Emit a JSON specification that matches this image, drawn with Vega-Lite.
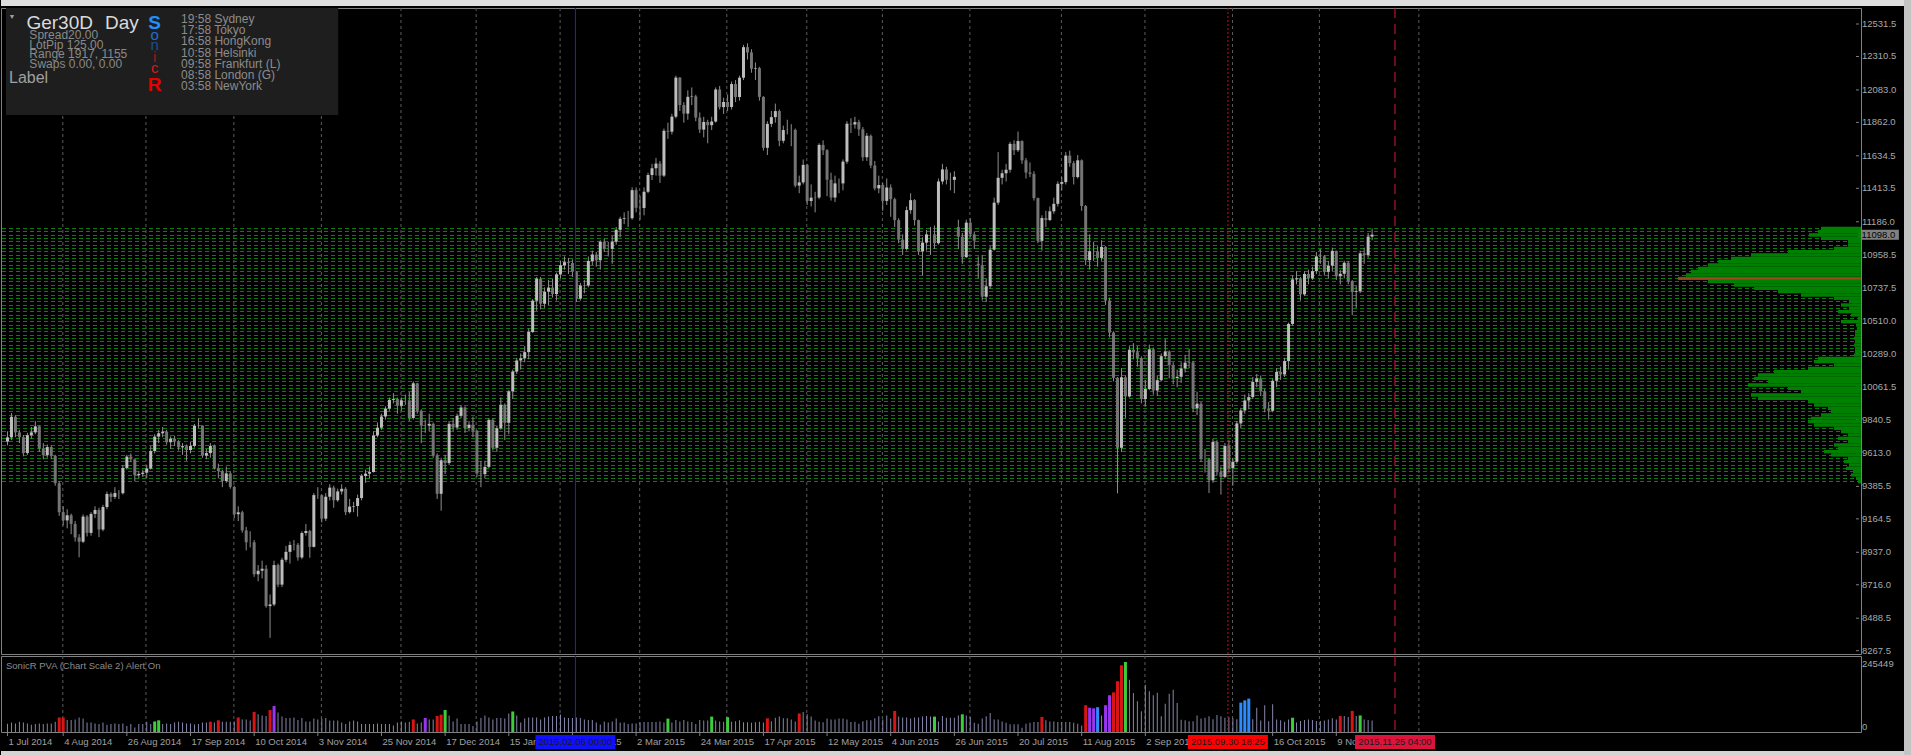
{
"$schema":"https://vega.github.io/schema/vega-lite/v6.json",
"background":"#000000",
"padding":0,
"config":{"view":{"stroke":"#808080","fill":"#000000"},"font":"Liberation Sans"},
"datasets":{
"bars":[
{"i":0,"o":9690,"h":9760,"l":9665,"c":9719,"v":29000,"k":"n"},
{"i":1,"o":9719,"h":9885,"l":9700,"c":9859,"v":33000,"k":"n"},
{"i":2,"o":9859,"h":9870,"l":9720,"c":9753,"v":30000,"k":"n"},
{"i":3,"o":9753,"h":9770,"l":9680,"c":9720,"v":36000,"k":"n"},
{"i":4,"o":9720,"h":9735,"l":9590,"c":9612,"v":33000,"k":"n"},
{"i":5,"o":9612,"h":9750,"l":9600,"c":9734,"v":30000,"k":"n"},
{"i":6,"o":9734,"h":9790,"l":9710,"c":9753,"v":25000,"k":"n"},
{"i":7,"o":9753,"h":9830,"l":9740,"c":9794,"v":28000,"k":"n"},
{"i":8,"o":9794,"h":9800,"l":9620,"c":9644,"v":30000,"k":"n"},
{"i":9,"o":9644,"h":9680,"l":9570,"c":9598,"v":28000,"k":"n"},
{"i":10,"o":9598,"h":9670,"l":9580,"c":9653,"v":30000,"k":"n"},
{"i":11,"o":9653,"h":9665,"l":9570,"c":9593,"v":30000,"k":"n"},
{"i":12,"o":9593,"h":9600,"l":9390,"c":9407,"v":36000,"k":"n"},
{"i":13,"o":9407,"h":9420,"l":9185,"c":9210,"v":51000,"k":"r"},
{"i":14,"o":9210,"h":9250,"l":9120,"c":9154,"v":51000,"k":"r"},
{"i":15,"o":9154,"h":9230,"l":9100,"c":9189,"v":42000,"k":"n"},
{"i":16,"o":9189,"h":9200,"l":9060,"c":9130,"v":42000,"k":"n"},
{"i":17,"o":9130,"h":9150,"l":9010,"c":9038,"v":44000,"k":"n"},
{"i":18,"o":9038,"h":9060,"l":8903,"c":9009,"v":51000,"k":"n"},
{"i":19,"o":9009,"h":9195,"l":9000,"c":9180,"v":47000,"k":"n"},
{"i":20,"o":9180,"h":9190,"l":9045,"c":9069,"v":33000,"k":"n"},
{"i":21,"o":9069,"h":9210,"l":9050,"c":9198,"v":33000,"k":"n"},
{"i":22,"o":9198,"h":9250,"l":9170,"c":9225,"v":30000,"k":"n"},
{"i":23,"o":9225,"h":9240,"l":9040,"c":9092,"v":28000,"k":"n"},
{"i":24,"o":9092,"h":9260,"l":9080,"c":9245,"v":33000,"k":"n"},
{"i":25,"o":9245,"h":9350,"l":9230,"c":9334,"v":25000,"k":"n"},
{"i":26,"o":9334,"h":9345,"l":9280,"c":9314,"v":28000,"k":"n"},
{"i":27,"o":9314,"h":9380,"l":9300,"c":9340,"v":30000,"k":"n"},
{"i":28,"o":9340,"h":9360,"l":9300,"c":9339,"v":28000,"k":"n"},
{"i":29,"o":9339,"h":9530,"l":9330,"c":9510,"v":30000,"k":"n"},
{"i":30,"o":9510,"h":9600,"l":9500,"c":9588,"v":21000,"k":"n"},
{"i":31,"o":9588,"h":9610,"l":9550,"c":9569,"v":28000,"k":"n"},
{"i":32,"o":9569,"h":9575,"l":9420,"c":9462,"v":16000,"k":"n"},
{"i":33,"o":9462,"h":9490,"l":9440,"c":9470,"v":28000,"k":"n"},
{"i":34,"o":9470,"h":9500,"l":9450,"c":9479,"v":28000,"k":"n"},
{"i":35,"o":9479,"h":9530,"l":9440,"c":9507,"v":36000,"k":"n"},
{"i":36,"o":9507,"h":9660,"l":9500,"c":9626,"v":28000,"k":"n"},
{"i":37,"o":9626,"h":9740,"l":9610,"c":9724,"v":37000,"k":"g"},
{"i":38,"o":9724,"h":9770,"l":9680,"c":9747,"v":41000,"k":"g"},
{"i":39,"o":9747,"h":9790,"l":9720,"c":9758,"v":28000,"k":"n"},
{"i":40,"o":9758,"h":9770,"l":9670,"c":9686,"v":30000,"k":"n"},
{"i":41,"o":9686,"h":9725,"l":9640,"c":9710,"v":28000,"k":"n"},
{"i":42,"o":9710,"h":9730,"l":9660,"c":9691,"v":33000,"k":"n"},
{"i":43,"o":9691,"h":9700,"l":9630,"c":9651,"v":36000,"k":"n"},
{"i":44,"o":9651,"h":9680,"l":9600,"c":9659,"v":33000,"k":"n"},
{"i":45,"o":9659,"h":9670,"l":9560,"c":9633,"v":30000,"k":"n"},
{"i":46,"o":9633,"h":9690,"l":9610,"c":9661,"v":30000,"k":"n"},
{"i":47,"o":9661,"h":9810,"l":9650,"c":9798,"v":26000,"k":"n"},
{"i":48,"o":9798,"h":9850,"l":9780,"c":9799,"v":28000,"k":"n"},
{"i":49,"o":9799,"h":9800,"l":9580,"c":9595,"v":33000,"k":"n"},
{"i":50,"o":9595,"h":9640,"l":9570,"c":9612,"v":33000,"k":"n"},
{"i":51,"o":9612,"h":9680,"l":9580,"c":9661,"v":36000,"k":"r"},
{"i":52,"o":9661,"h":9670,"l":9500,"c":9510,"v":33000,"k":"n"},
{"i":53,"o":9510,"h":9540,"l":9440,"c":9490,"v":41000,"k":"r"},
{"i":54,"o":9490,"h":9500,"l":9380,"c":9422,"v":36000,"k":"n"},
{"i":55,"o":9422,"h":9520,"l":9410,"c":9474,"v":36000,"k":"n"},
{"i":56,"o":9474,"h":9490,"l":9370,"c":9382,"v":36000,"k":"n"},
{"i":57,"o":9382,"h":9390,"l":9170,"c":9196,"v":37000,"k":"n"},
{"i":58,"o":9196,"h":9250,"l":9150,"c":9209,"v":51000,"k":"r"},
{"i":59,"o":9209,"h":9220,"l":9070,"c":9086,"v":44000,"k":"n"},
{"i":60,"o":9086,"h":9110,"l":8950,"c":9005,"v":44000,"k":"n"},
{"i":61,"o":9005,"h":9080,"l":8970,"c":9005,"v":40000,"k":"n"},
{"i":62,"o":9005,"h":9020,"l":8770,"c":8788,"v":70000,"k":"r"},
{"i":63,"o":8788,"h":8850,"l":8740,"c":8812,"v":62000,"k":"n"},
{"i":64,"o":8812,"h":8880,"l":8760,"c":8825,"v":58000,"k":"n"},
{"i":65,"o":8825,"h":8850,"l":8560,"c":8571,"v":56000,"k":"n"},
{"i":66,"o":8571,"h":8650,"l":8355,"c":8582,"v":77000,"k":"r"},
{"i":67,"o":8582,"h":8880,"l":8570,"c":8850,"v":91000,"k":"p"},
{"i":68,"o":8850,"h":8860,"l":8700,"c":8717,"v":68000,"k":"n"},
{"i":69,"o":8717,"h":8900,"l":8700,"c":8886,"v":54000,"k":"n"},
{"i":70,"o":8886,"h":8980,"l":8870,"c":8940,"v":49000,"k":"n"},
{"i":71,"o":8940,"h":9010,"l":8860,"c":8987,"v":49000,"k":"n"},
{"i":72,"o":8987,"h":9020,"l":8950,"c":8988,"v":51000,"k":"n"},
{"i":73,"o":8988,"h":9000,"l":8880,"c":8902,"v":42000,"k":"n"},
{"i":74,"o":8902,"h":9080,"l":8890,"c":9068,"v":49000,"k":"n"},
{"i":75,"o":9068,"h":9130,"l":9050,"c":9082,"v":37000,"k":"n"},
{"i":76,"o":9082,"h":9090,"l":8900,"c":8974,"v":37000,"k":"n"},
{"i":77,"o":8974,"h":9340,"l":8970,"c":9326,"v":47000,"k":"n"},
{"i":78,"o":9326,"h":9380,"l":9300,"c":9325,"v":44000,"k":"n"},
{"i":79,"o":9325,"h":9330,"l":9140,"c":9166,"v":47000,"k":"n"},
{"i":80,"o":9166,"h":9340,"l":9150,"c":9315,"v":49000,"k":"n"},
{"i":81,"o":9315,"h":9400,"l":9290,"c":9377,"v":40000,"k":"n"},
{"i":82,"o":9377,"h":9390,"l":9240,"c":9291,"v":40000,"k":"n"},
{"i":83,"o":9291,"h":9370,"l":9280,"c":9351,"v":40000,"k":"n"},
{"i":84,"o":9351,"h":9400,"l":9330,"c":9369,"v":33000,"k":"n"},
{"i":85,"o":9369,"h":9380,"l":9190,"c":9210,"v":28000,"k":"n"},
{"i":86,"o":9210,"h":9300,"l":9200,"c":9248,"v":37000,"k":"n"},
{"i":87,"o":9248,"h":9280,"l":9210,"c":9252,"v":40000,"k":"n"},
{"i":88,"o":9252,"h":9330,"l":9180,"c":9306,"v":37000,"k":"n"},
{"i":89,"o":9306,"h":9470,"l":9290,"c":9456,"v":28000,"k":"n"},
{"i":90,"o":9456,"h":9500,"l":9410,"c":9472,"v":28000,"k":"n"},
{"i":91,"o":9472,"h":9520,"l":9440,"c":9483,"v":28000,"k":"n"},
{"i":92,"o":9483,"h":9760,"l":9480,"c":9732,"v":28000,"k":"n"},
{"i":93,"o":9732,"h":9820,"l":9720,"c":9785,"v":30000,"k":"n"},
{"i":94,"o":9785,"h":9880,"l":9770,"c":9861,"v":28000,"k":"n"},
{"i":95,"o":9861,"h":9930,"l":9840,"c":9915,"v":28000,"k":"n"},
{"i":96,"o":9915,"h":9990,"l":9900,"c":9974,"v":28000,"k":"n"},
{"i":97,"o":9974,"h":10020,"l":9950,"c":9980,"v":23000,"k":"n"},
{"i":98,"o":9980,"h":9990,"l":9880,"c":9934,"v":33000,"k":"n"},
{"i":99,"o":9934,"h":9990,"l":9900,"c":9971,"v":37000,"k":"n"},
{"i":100,"o":9971,"h":10010,"l":9940,"c":9971,"v":33000,"k":"n"},
{"i":101,"o":9971,"h":10030,"l":9830,"c":9851,"v":35000,"k":"n"},
{"i":102,"o":9851,"h":10100,"l":9840,"c":10087,"v":44000,"k":"r"},
{"i":103,"o":10087,"h":10090,"l":9880,"c":9900,"v":30000,"k":"n"},
{"i":104,"o":9900,"h":9910,"l":9680,"c":9799,"v":33000,"k":"n"},
{"i":105,"o":9799,"h":9840,"l":9750,"c":9799,"v":49000,"k":"p"},
{"i":106,"o":9799,"h":9880,"l":9760,"c":9811,"v":44000,"k":"n"},
{"i":107,"o":9811,"h":9820,"l":9580,"c":9594,"v":44000,"k":"n"},
{"i":108,"o":9594,"h":9610,"l":9300,"c":9335,"v":56000,"k":"r"},
{"i":109,"o":9335,"h":9580,"l":9220,"c":9563,"v":61000,"k":"r"},
{"i":110,"o":9563,"h":9600,"l":9470,"c":9544,"v":77000,"k":"g"},
{"i":111,"o":9544,"h":9830,"l":9530,"c":9811,"v":58000,"k":"n"},
{"i":112,"o":9811,"h":9850,"l":9760,"c":9786,"v":37000,"k":"n"},
{"i":113,"o":9786,"h":9880,"l":9770,"c":9865,"v":47000,"k":"n"},
{"i":114,"o":9865,"h":9940,"l":9850,"c":9922,"v":28000,"k":"n"},
{"i":115,"o":9922,"h":9930,"l":9750,"c":9783,"v":28000,"k":"n"},
{"i":116,"o":9783,"h":9830,"l":9760,"c":9805,"v":28000,"k":"n"},
{"i":117,"o":9805,"h":9860,"l":9720,"c":9764,"v":21000,"k":"n"},
{"i":118,"o":9764,"h":9770,"l":9450,"c":9473,"v":37000,"k":"n"},
{"i":119,"o":9473,"h":9560,"l":9380,"c":9469,"v":49000,"k":"n"},
{"i":120,"o":9469,"h":9560,"l":9440,"c":9518,"v":58000,"k":"n"},
{"i":121,"o":9518,"h":9850,"l":9510,"c":9838,"v":51000,"k":"n"},
{"i":122,"o":9838,"h":9850,"l":9630,"c":9648,"v":44000,"k":"n"},
{"i":123,"o":9648,"h":9800,"l":9620,"c":9781,"v":49000,"k":"n"},
{"i":124,"o":9781,"h":9990,"l":9770,"c":9941,"v":49000,"k":"n"},
{"i":125,"o":9941,"h":9950,"l":9700,"c":9818,"v":47000,"k":"n"},
{"i":126,"o":9818,"h":10040,"l":9740,"c":10032,"v":65000,"k":"n"},
{"i":127,"o":10032,"h":10180,"l":9980,"c":10167,"v":72000,"k":"g"},
{"i":128,"o":10167,"h":10260,"l":10150,"c":10242,"v":58000,"k":"n"},
{"i":129,"o":10242,"h":10290,"l":10180,"c":10257,"v":33000,"k":"n"},
{"i":130,"o":10257,"h":10340,"l":10230,"c":10299,"v":47000,"k":"n"},
{"i":131,"o":10299,"h":10460,"l":10250,"c":10436,"v":51000,"k":"n"},
{"i":132,"o":10436,"h":10660,"l":10430,"c":10649,"v":51000,"k":"n"},
{"i":133,"o":10649,"h":10810,"l":10580,"c":10798,"v":51000,"k":"n"},
{"i":134,"o":10798,"h":10810,"l":10590,"c":10628,"v":44000,"k":"n"},
{"i":135,"o":10628,"h":10740,"l":10600,"c":10710,"v":51000,"k":"n"},
{"i":136,"o":10710,"h":10790,"l":10620,"c":10738,"v":54000,"k":"n"},
{"i":137,"o":10738,"h":10800,"l":10670,"c":10694,"v":56000,"k":"n"},
{"i":138,"o":10694,"h":10840,"l":10650,"c":10828,"v":56000,"k":"n"},
{"i":139,"o":10828,"h":10920,"l":10800,"c":10890,"v":61000,"k":"n"},
{"i":140,"o":10890,"h":10950,"l":10860,"c":10911,"v":51000,"k":"n"},
{"i":141,"o":10911,"h":10940,"l":10830,"c":10905,"v":49000,"k":"n"},
{"i":142,"o":10905,"h":10930,"l":10810,"c":10846,"v":49000,"k":"n"},
{"i":143,"o":10846,"h":10850,"l":10640,"c":10663,"v":51000,"k":"n"},
{"i":144,"o":10663,"h":10770,"l":10650,"c":10752,"v":49000,"k":"n"},
{"i":145,"o":10752,"h":10790,"l":10700,"c":10752,"v":44000,"k":"n"},
{"i":146,"o":10752,"h":10950,"l":10740,"c":10919,"v":42000,"k":"n"},
{"i":147,"o":10919,"h":10990,"l":10890,"c":10963,"v":42000,"k":"n"},
{"i":148,"o":10963,"h":10980,"l":10880,"c":10924,"v":33000,"k":"n"},
{"i":149,"o":10924,"h":11060,"l":10860,"c":11050,"v":26000,"k":"n"},
{"i":150,"o":11050,"h":11070,"l":10980,"c":11001,"v":37000,"k":"n"},
{"i":151,"o":11001,"h":11050,"l":10950,"c":11001,"v":33000,"k":"n"},
{"i":152,"o":11001,"h":11090,"l":10900,"c":11050,"v":37000,"k":"n"},
{"i":153,"o":11050,"h":11150,"l":11030,"c":11131,"v":47000,"k":"n"},
{"i":154,"o":11131,"h":11220,"l":11080,"c":11206,"v":33000,"k":"n"},
{"i":155,"o":11206,"h":11250,"l":11170,"c":11211,"v":33000,"k":"n"},
{"i":156,"o":11211,"h":11260,"l":11150,"c":11210,"v":28000,"k":"n"},
{"i":157,"o":11210,"h":11420,"l":11200,"c":11401,"v":30000,"k":"n"},
{"i":158,"o":11401,"h":11420,"l":11250,"c":11281,"v":30000,"k":"n"},
{"i":159,"o":11281,"h":11360,"l":11200,"c":11280,"v":33000,"k":"n"},
{"i":160,"o":11280,"h":11420,"l":11230,"c":11390,"v":35000,"k":"n"},
{"i":161,"o":11390,"h":11520,"l":11380,"c":11504,"v":35000,"k":"n"},
{"i":162,"o":11504,"h":11580,"l":11470,"c":11550,"v":35000,"k":"n"},
{"i":163,"o":11550,"h":11620,"l":11500,"c":11582,"v":35000,"k":"n"},
{"i":164,"o":11582,"h":11600,"l":11450,"c":11500,"v":37000,"k":"n"},
{"i":165,"o":11500,"h":11820,"l":11490,"c":11805,"v":33000,"k":"n"},
{"i":166,"o":11805,"h":11860,"l":11750,"c":11799,"v":47000,"k":"g"},
{"i":167,"o":11799,"h":11920,"l":11780,"c":11901,"v":33000,"k":"n"},
{"i":168,"o":11901,"h":12180,"l":11890,"c":12167,"v":42000,"k":"n"},
{"i":169,"o":12167,"h":12170,"l":11940,"c":11980,"v":37000,"k":"n"},
{"i":170,"o":11980,"h":12000,"l":11860,"c":11922,"v":42000,"k":"n"},
{"i":171,"o":11922,"h":12080,"l":11880,"c":12036,"v":37000,"k":"n"},
{"i":172,"o":12036,"h":12100,"l":11980,"c":12039,"v":35000,"k":"n"},
{"i":173,"o":12039,"h":12050,"l":11870,"c":11895,"v":28000,"k":"n"},
{"i":174,"o":11895,"h":11930,"l":11790,"c":11813,"v":42000,"k":"n"},
{"i":175,"o":11813,"h":11900,"l":11760,"c":11865,"v":40000,"k":"n"},
{"i":176,"o":11865,"h":11880,"l":11720,"c":11843,"v":40000,"k":"n"},
{"i":177,"o":11843,"h":11900,"l":11810,"c":11868,"v":54000,"k":"g"},
{"i":178,"o":11868,"h":12100,"l":11860,"c":12086,"v":40000,"k":"n"},
{"i":179,"o":12086,"h":12110,"l":11950,"c":11966,"v":37000,"k":"n"},
{"i":180,"o":11966,"h":12030,"l":11920,"c":12001,"v":36000,"k":"n"},
{"i":181,"o":12001,"h":12050,"l":11940,"c":11967,"v":52000,"k":"g"},
{"i":182,"o":11967,"h":12140,"l":11950,"c":12123,"v":36000,"k":"n"},
{"i":183,"o":12123,"h":12150,"l":12000,"c":12035,"v":38000,"k":"n"},
{"i":184,"o":12035,"h":12180,"l":12010,"c":12166,"v":41000,"k":"n"},
{"i":185,"o":12166,"h":12390,"l":12150,"c":12374,"v":34000,"k":"n"},
{"i":186,"o":12374,"h":12400,"l":12290,"c":12338,"v":34000,"k":"n"},
{"i":187,"o":12338,"h":12360,"l":12200,"c":12227,"v":32000,"k":"n"},
{"i":188,"o":12227,"h":12270,"l":12150,"c":12231,"v":34000,"k":"n"},
{"i":189,"o":12231,"h":12240,"l":12010,"c":12036,"v":36000,"k":"n"},
{"i":190,"o":12036,"h":12040,"l":11670,"c":11689,"v":33000,"k":"n"},
{"i":191,"o":11689,"h":11870,"l":11640,"c":11852,"v":48000,"k":"r"},
{"i":192,"o":11852,"h":11940,"l":11830,"c":11898,"v":38000,"k":"n"},
{"i":193,"o":11898,"h":11990,"l":11860,"c":11939,"v":50000,"k":"n"},
{"i":194,"o":11939,"h":11950,"l":11700,"c":11737,"v":54000,"k":"n"},
{"i":195,"o":11737,"h":11840,"l":11720,"c":11810,"v":48000,"k":"n"},
{"i":196,"o":11810,"h":11880,"l":11780,"c":11811,"v":48000,"k":"n"},
{"i":197,"o":11811,"h":11850,"l":11700,"c":11811,"v":44000,"k":"n"},
{"i":198,"o":11811,"h":11820,"l":11420,"c":11432,"v":37000,"k":"n"},
{"i":199,"o":11432,"h":11500,"l":11380,"c":11454,"v":65000,"k":"r"},
{"i":200,"o":11454,"h":11610,"l":11440,"c":11573,"v":70000,"k":"n"},
{"i":201,"o":11573,"h":11580,"l":11300,"c":11327,"v":62000,"k":"n"},
{"i":202,"o":11327,"h":11440,"l":11290,"c":11350,"v":54000,"k":"n"},
{"i":203,"o":11350,"h":11390,"l":11250,"c":11351,"v":40000,"k":"n"},
{"i":204,"o":11351,"h":11720,"l":11340,"c":11709,"v":36000,"k":"n"},
{"i":205,"o":11709,"h":11740,"l":11640,"c":11673,"v":34000,"k":"n"},
{"i":206,"o":11673,"h":11680,"l":11360,"c":11472,"v":47000,"k":"n"},
{"i":207,"o":11472,"h":11520,"l":11330,"c":11351,"v":44000,"k":"n"},
{"i":208,"o":11351,"h":11500,"l":11320,"c":11447,"v":44000,"k":"n"},
{"i":209,"o":11447,"h":11480,"l":11380,"c":11447,"v":47000,"k":"n"},
{"i":210,"o":11447,"h":11610,"l":11400,"c":11595,"v":47000,"k":"n"},
{"i":211,"o":11595,"h":11870,"l":11580,"c":11853,"v":44000,"k":"n"},
{"i":212,"o":11853,"h":11890,"l":11790,"c":11848,"v":35000,"k":"n"},
{"i":213,"o":11848,"h":11900,"l":11820,"c":11864,"v":36000,"k":"n"},
{"i":214,"o":11864,"h":11880,"l":11770,"c":11815,"v":29000,"k":"n"},
{"i":215,"o":11815,"h":11830,"l":11600,"c":11625,"v":38000,"k":"n"},
{"i":216,"o":11625,"h":11790,"l":11600,"c":11771,"v":41000,"k":"n"},
{"i":217,"o":11771,"h":11780,"l":11550,"c":11569,"v":41000,"k":"n"},
{"i":218,"o":11569,"h":11600,"l":11400,"c":11413,"v":48000,"k":"n"},
{"i":219,"o":11413,"h":11500,"l":11380,"c":11436,"v":55000,"k":"n"},
{"i":220,"o":11436,"h":11450,"l":11260,"c":11328,"v":44000,"k":"n"},
{"i":221,"o":11328,"h":11480,"l":11300,"c":11419,"v":58000,"k":"n"},
{"i":222,"o":11419,"h":11440,"l":11220,"c":11340,"v":47000,"k":"n"},
{"i":223,"o":11340,"h":11350,"l":11150,"c":11197,"v":74000,"k":"r"},
{"i":224,"o":11197,"h":11210,"l":11040,"c":11064,"v":54000,"k":"n"},
{"i":225,"o":11064,"h":11100,"l":10960,"c":11001,"v":51000,"k":"n"},
{"i":226,"o":11001,"h":11290,"l":10990,"c":11265,"v":51000,"k":"n"},
{"i":227,"o":11265,"h":11380,"l":11240,"c":11333,"v":47000,"k":"n"},
{"i":228,"o":11333,"h":11340,"l":11160,"c":11197,"v":51000,"k":"n"},
{"i":229,"o":11197,"h":11200,"l":10960,"c":10984,"v":51000,"k":"n"},
{"i":230,"o":10984,"h":11080,"l":10820,"c":11044,"v":54000,"k":"n"},
{"i":231,"o":11044,"h":11130,"l":10990,"c":11100,"v":56000,"k":"n"},
{"i":232,"o":11100,"h":11150,"l":10960,"c":11100,"v":54000,"k":"n"},
{"i":233,"o":11100,"h":11160,"l":11000,"c":11040,"v":54000,"k":"g"},
{"i":234,"o":11040,"h":11480,"l":11030,"c":11460,"v":37000,"k":"n"},
{"i":235,"o":11460,"h":11580,"l":11440,"c":11542,"v":56000,"k":"n"},
{"i":236,"o":11542,"h":11560,"l":11440,"c":11472,"v":50000,"k":"n"},
{"i":237,"o":11472,"h":11520,"l":11400,"c":11471,"v":50000,"k":"n"},
{"i":238,"o":11471,"h":11530,"l":11380,"c":11492,"v":50000,"k":"n"},
{"i":239,"o":11150,"h":11200,"l":11000,"c":11084,"v":58000,"k":"n"},
{"i":240,"o":11084,"h":11110,"l":10900,"c":10945,"v":62000,"k":"g"},
{"i":241,"o":10945,"h":11200,"l":10940,"c":11180,"v":58000,"k":"n"},
{"i":242,"o":11180,"h":11210,"l":11080,"c":11100,"v":53000,"k":"n"},
{"i":243,"o":11100,"h":11120,"l":11000,"c":11058,"v":32000,"k":"n"},
{"i":244,"o":10900,"h":10950,"l":10800,"c":10890,"v":29000,"k":"n"},
{"i":245,"o":10890,"h":10960,"l":10650,"c":10676,"v":47000,"k":"n"},
{"i":246,"o":10676,"h":10800,"l":10640,"c":10747,"v":55000,"k":"n"},
{"i":247,"o":10747,"h":11020,"l":10730,"c":10996,"v":67000,"k":"n"},
{"i":248,"o":10996,"h":11350,"l":10990,"c":11316,"v":44000,"k":"n"},
{"i":249,"o":11316,"h":11660,"l":11300,"c":11485,"v":44000,"k":"n"},
{"i":250,"o":11485,"h":11540,"l":11440,"c":11516,"v":37000,"k":"n"},
{"i":251,"o":11516,"h":11580,"l":11460,"c":11540,"v":32000,"k":"n"},
{"i":252,"o":11540,"h":11730,"l":11520,"c":11716,"v":27000,"k":"n"},
{"i":253,"o":11716,"h":11740,"l":11640,"c":11673,"v":27000,"k":"n"},
{"i":254,"o":11673,"h":11800,"l":11660,"c":11735,"v":27000,"k":"n"},
{"i":255,"o":11735,"h":11740,"l":11580,"c":11604,"v":15000,"k":"n"},
{"i":256,"o":11604,"h":11620,"l":11480,"c":11521,"v":29000,"k":"n"},
{"i":257,"o":11521,"h":11590,"l":11490,"c":11512,"v":32000,"k":"n"},
{"i":258,"o":11512,"h":11530,"l":11330,"c":11347,"v":35000,"k":"n"},
{"i":259,"o":11347,"h":11350,"l":11040,"c":11056,"v":35000,"k":"n"},
{"i":260,"o":11056,"h":11230,"l":10990,"c":11211,"v":53000,"k":"r"},
{"i":261,"o":11211,"h":11260,"l":11150,"c":11198,"v":41000,"k":"n"},
{"i":262,"o":11198,"h":11290,"l":11190,"c":11257,"v":37000,"k":"n"},
{"i":263,"o":11257,"h":11350,"l":11240,"c":11308,"v":37000,"k":"n"},
{"i":264,"o":11308,"h":11460,"l":11290,"c":11444,"v":35000,"k":"n"},
{"i":265,"o":11444,"h":11490,"l":11400,"c":11456,"v":35000,"k":"n"},
{"i":266,"o":11456,"h":11660,"l":11440,"c":11636,"v":35000,"k":"n"},
{"i":267,"o":11636,"h":11670,"l":11560,"c":11585,"v":35000,"k":"n"},
{"i":268,"o":11585,"h":11600,"l":11440,"c":11490,"v":32000,"k":"n"},
{"i":269,"o":11490,"h":11640,"l":11480,"c":11604,"v":29000,"k":"n"},
{"i":270,"o":11604,"h":11610,"l":11260,"c":11293,"v":23000,"k":"n"},
{"i":271,"o":11293,"h":11300,"l":10890,"c":10925,"v":94000,"k":"r"},
{"i":272,"o":10925,"h":11100,"l":10860,"c":10985,"v":85000,"k":"p"},
{"i":273,"o":10985,"h":11050,"l":10920,"c":10985,"v":83000,"k":"p"},
{"i":274,"o":10985,"h":11020,"l":10880,"c":10940,"v":87000,"k":"b"},
{"i":275,"o":10940,"h":11060,"l":10920,"c":11015,"v":58000,"k":"n"},
{"i":276,"o":11015,"h":11020,"l":10620,"c":10650,"v":94000,"k":"p"},
{"i":277,"o":10650,"h":10670,"l":10400,"c":10432,"v":129000,"k":"p"},
{"i":278,"o":10432,"h":10440,"l":10100,"c":10124,"v":139000,"k":"r"},
{"i":279,"o":10124,"h":10130,"l":9338,"c":9648,"v":178000,"k":"r"},
{"i":280,"o":9648,"h":10190,"l":9620,"c":10128,"v":234000,"k":"r"},
{"i":281,"o":10128,"h":10140,"l":9850,"c":9997,"v":245449,"k":"g"},
{"i":282,"o":9997,"h":10340,"l":9990,"c":10315,"v":183000,"k":"n"},
{"i":283,"o":10315,"h":10360,"l":10250,"c":10298,"v":137000,"k":"n"},
{"i":284,"o":10298,"h":10340,"l":10200,"c":10259,"v":108000,"k":"n"},
{"i":285,"o":10259,"h":10270,"l":9950,"c":9980,"v":73000,"k":"n"},
{"i":286,"o":9980,"h":10110,"l":9930,"c":10048,"v":166000,"k":"n"},
{"i":287,"o":10048,"h":10350,"l":10040,"c":10318,"v":143000,"k":"n"},
{"i":288,"o":10318,"h":10330,"l":10010,"c":10038,"v":129000,"k":"n"},
{"i":289,"o":10038,"h":10140,"l":10000,"c":10108,"v":138000,"k":"n"},
{"i":290,"o":10108,"h":10290,"l":10100,"c":10271,"v":55000,"k":"n"},
{"i":291,"o":10271,"h":10390,"l":10250,"c":10303,"v":99000,"k":"n"},
{"i":292,"o":10303,"h":10310,"l":10120,"c":10210,"v":134000,"k":"n"},
{"i":293,"o":10210,"h":10230,"l":10080,"c":10123,"v":148000,"k":"n"},
{"i":294,"o":10123,"h":10180,"l":10060,"c":10131,"v":102000,"k":"n"},
{"i":295,"o":10131,"h":10230,"l":10090,"c":10188,"v":43000,"k":"n"},
{"i":296,"o":10188,"h":10280,"l":10160,"c":10227,"v":41000,"k":"n"},
{"i":297,"o":10227,"h":10320,"l":10190,"c":10229,"v":38000,"k":"n"},
{"i":298,"o":10229,"h":10240,"l":9890,"c":9916,"v":38000,"k":"n"},
{"i":299,"o":9916,"h":10030,"l":9870,"c":9948,"v":58000,"k":"n"},
{"i":300,"o":9948,"h":9960,"l":9550,"c":9571,"v":47000,"k":"n"},
{"i":301,"o":9571,"h":9640,"l":9480,"c":9570,"v":50000,"k":"n"},
{"i":302,"o":9570,"h":9580,"l":9340,"c":9427,"v":55000,"k":"n"},
{"i":303,"o":9427,"h":9710,"l":9410,"c":9688,"v":45000,"k":"n"},
{"i":304,"o":9688,"h":9700,"l":9460,"c":9483,"v":60000,"k":"n"},
{"i":305,"o":9483,"h":9520,"l":9330,"c":9450,"v":55000,"k":"n"},
{"i":306,"o":9450,"h":9680,"l":9440,"c":9660,"v":50000,"k":"n"},
{"i":307,"o":9660,"h":9700,"l":9480,"c":9509,"v":52000,"k":"n"},
{"i":308,"o":9509,"h":9580,"l":9390,"c":9553,"v":48000,"k":"n"},
{"i":309,"o":9553,"h":9830,"l":9540,"c":9814,"v":45000,"k":"n"},
{"i":310,"o":9814,"h":9920,"l":9780,"c":9902,"v":103000,"k":"b"},
{"i":311,"o":9902,"h":10010,"l":9880,"c":9970,"v":111000,"k":"b"},
{"i":312,"o":9970,"h":10020,"l":9910,"c":9993,"v":117000,"k":"b"},
{"i":313,"o":9993,"h":10130,"l":9980,"c":10096,"v":45000,"k":"n"},
{"i":314,"o":10096,"h":10150,"l":10060,"c":10120,"v":85000,"k":"n"},
{"i":315,"o":10120,"h":10140,"l":10000,"c":10032,"v":40000,"k":"n"},
{"i":316,"o":10032,"h":10050,"l":9890,"c":9915,"v":94000,"k":"n"},
{"i":317,"o":9915,"h":9960,"l":9840,"c":9900,"v":38000,"k":"n"},
{"i":318,"o":9900,"h":10120,"l":9890,"c":10104,"v":97000,"k":"n"},
{"i":319,"o":10104,"h":10190,"l":10060,"c":10164,"v":44000,"k":"n"},
{"i":320,"o":10164,"h":10200,"l":10110,"c":10147,"v":41000,"k":"n"},
{"i":321,"o":10147,"h":10260,"l":10130,"c":10238,"v":36000,"k":"n"},
{"i":322,"o":10238,"h":10500,"l":10180,"c":10491,"v":44000,"k":"n"},
{"i":323,"o":10491,"h":10820,"l":10480,"c":10794,"v":50000,"k":"g"},
{"i":324,"o":10794,"h":10850,"l":10760,"c":10801,"v":33000,"k":"n"},
{"i":325,"o":10801,"h":10810,"l":10650,"c":10692,"v":39000,"k":"n"},
{"i":326,"o":10692,"h":10850,"l":10680,"c":10831,"v":42000,"k":"n"},
{"i":327,"o":10831,"h":10860,"l":10760,"c":10801,"v":44000,"k":"n"},
{"i":328,"o":10801,"h":10880,"l":10790,"c":10850,"v":42000,"k":"n"},
{"i":329,"o":10850,"h":10980,"l":10830,"c":10950,"v":39000,"k":"n"},
{"i":330,"o":10950,"h":11000,"l":10900,"c":10951,"v":39000,"k":"n"},
{"i":331,"o":10951,"h":10960,"l":10820,"c":10845,"v":40000,"k":"n"},
{"i":332,"o":10845,"h":10920,"l":10800,"c":10887,"v":44000,"k":"n"},
{"i":333,"o":10887,"h":11010,"l":10850,"c":10988,"v":48000,"k":"n"},
{"i":334,"o":10988,"h":10990,"l":10790,"c":10815,"v":44000,"k":"n"},
{"i":335,"o":10815,"h":10860,"l":10760,"c":10832,"v":56000,"k":"r"},
{"i":336,"o":10832,"h":10920,"l":10800,"c":10907,"v":56000,"k":"n"},
{"i":337,"o":10907,"h":10920,"l":10760,"c":10782,"v":53000,"k":"n"},
{"i":338,"o":10782,"h":10790,"l":10550,"c":10708,"v":74000,"k":"r"},
{"i":339,"o":10708,"h":10750,"l":10600,"c":10713,"v":56000,"k":"n"},
{"i":340,"o":10713,"h":10990,"l":10700,"c":10971,"v":58000,"k":"g"},
{"i":341,"o":10971,"h":11010,"l":10900,"c":10960,"v":44000,"k":"n"},
{"i":342,"o":10960,"h":11110,"l":10940,"c":11085,"v":42000,"k":"n"},
{"i":343,"o":11085,"h":11140,"l":11060,"c":11098,"v":40000,"k":"n"}
],
"prof":[
{"lo":11130,"hi":11152,"pc":11140.1,"pv":40000},
{"lo":11107,"hi":11130,"pc":11119.7,"pv":43000},
{"lo":11084,"hi":11107,"pc":11092.5,"pv":52000},
{"lo":11062,"hi":11084,"pc":11072.1,"pv":40000},
{"lo":11039,"hi":11062,"pc":11051.7,"pv":13000},
{"lo":11016,"hi":11039,"pc":11024.5,"pv":13000},
{"lo":10994,"hi":11016,"pc":11004.0,"pv":27000},
{"lo":10971,"hi":10994,"pc":10983.6,"pv":73000},
{"lo":10948,"hi":10971,"pc":10956.4,"pv":110000},
{"lo":10926,"hi":10948,"pc":10936.0,"pv":130000},
{"lo":10903,"hi":10926,"pc":10915.6,"pv":143000},
{"lo":10880,"hi":10903,"pc":10888.4,"pv":153000},
{"lo":10858,"hi":10880,"pc":10868.0,"pv":163000},
{"lo":10835,"hi":10858,"pc":10847.6,"pv":170000},
{"lo":10812,"hi":10835,"pc":10820.3,"pv":175000},
{"lo":10790,"hi":10812,"pc":10799.9,"pv":183000},
{"lo":10767,"hi":10790,"pc":10779.5,"pv":153000},
{"lo":10744,"hi":10767,"pc":10752.3,"pv":127000},
{"lo":10722,"hi":10744,"pc":10731.9,"pv":107000},
{"lo":10699,"hi":10722,"pc":10711.5,"pv":83000},
{"lo":10676,"hi":10699,"pc":10684.3,"pv":60000},
{"lo":10654,"hi":10676,"pc":10663.8,"pv":27000},
{"lo":10631,"hi":10654,"pc":10643.4,"pv":12000},
{"lo":10608,"hi":10631,"pc":10616.2,"pv":20000},
{"lo":10586,"hi":10608,"pc":10595.8,"pv":12000},
{"lo":10563,"hi":10586,"pc":10575.4,"pv":23000},
{"lo":10540,"hi":10563,"pc":10548.2,"pv":10000},
{"lo":10518,"hi":10540,"pc":10527.8,"pv":3000},
{"lo":10495,"hi":10518,"pc":10507.4,"pv":20000},
{"lo":10472,"hi":10495,"pc":10480.1,"pv":5000},
{"lo":10450,"hi":10472,"pc":10459.7,"pv":4000},
{"lo":10427,"hi":10450,"pc":10439.3,"pv":6000},
{"lo":10404,"hi":10427,"pc":10412.1,"pv":6000},
{"lo":10382,"hi":10404,"pc":10391.7,"pv":7000},
{"lo":10359,"hi":10382,"pc":10371.3,"pv":6000},
{"lo":10336,"hi":10359,"pc":10344.1,"pv":7000},
{"lo":10314,"hi":10336,"pc":10323.6,"pv":6000},
{"lo":10291,"hi":10314,"pc":10303.2,"pv":6000},
{"lo":10268,"hi":10291,"pc":10276.0,"pv":7000},
{"lo":10246,"hi":10268,"pc":10255.6,"pv":43000},
{"lo":10223,"hi":10246,"pc":10235.2,"pv":47000},
{"lo":10200,"hi":10223,"pc":10208.0,"pv":27000},
{"lo":10178,"hi":10200,"pc":10187.6,"pv":53000},
{"lo":10155,"hi":10178,"pc":10167.2,"pv":87000},
{"lo":10132,"hi":10155,"pc":10139.9,"pv":103000},
{"lo":10110,"hi":10132,"pc":10119.5,"pv":107000},
{"lo":10087,"hi":10110,"pc":10099.1,"pv":93000},
{"lo":10064,"hi":10087,"pc":10071.9,"pv":113000},
{"lo":10042,"hi":10064,"pc":10051.5,"pv":73000},
{"lo":10019,"hi":10042,"pc":10031.1,"pv":60000},
{"lo":9996,"hi":10019,"pc":10003.9,"pv":110000},
{"lo":9974,"hi":9996,"pc":9983.4,"pv":103000},
{"lo":9951,"hi":9974,"pc":9963.0,"pv":53000},
{"lo":9928,"hi":9951,"pc":9935.8,"pv":47000},
{"lo":9906,"hi":9928,"pc":9915.4,"pv":33000},
{"lo":9883,"hi":9906,"pc":9895.0,"pv":30000},
{"lo":9860,"hi":9883,"pc":9867.8,"pv":40000},
{"lo":9838,"hi":9860,"pc":9847.4,"pv":50000},
{"lo":9815,"hi":9838,"pc":9827.0,"pv":53000},
{"lo":9792,"hi":9815,"pc":9799.7,"pv":47000},
{"lo":9769,"hi":9792,"pc":9779.3,"pv":27000},
{"lo":9747,"hi":9769,"pc":9758.9,"pv":20000},
{"lo":9724,"hi":9747,"pc":9731.7,"pv":13000},
{"lo":9701,"hi":9724,"pc":9711.3,"pv":23000},
{"lo":9679,"hi":9701,"pc":9690.9,"pv":13000},
{"lo":9656,"hi":9679,"pc":9663.7,"pv":27000},
{"lo":9633,"hi":9656,"pc":9643.2,"pv":23000},
{"lo":9611,"hi":9633,"pc":9622.8,"pv":37000},
{"lo":9588,"hi":9611,"pc":9595.6,"pv":30000},
{"lo":9565,"hi":9588,"pc":9575.2,"pv":13000},
{"lo":9543,"hi":9565,"pc":9554.8,"pv":17000},
{"lo":9520,"hi":9543,"pc":9527.6,"pv":12000},
{"lo":9497,"hi":9520,"pc":9507.2,"pv":15000},
{"lo":9474,"hi":9497,"pc":9486.8,"pv":8000},
{"lo":9452,"hi":9474,"pc":9459.5,"pv":10000},
{"lo":9429,"hi":9452,"pc":9439.1,"pv":5000},
{"lo":9406,"hi":9429,"pc":9418.7,"pv":3000}
],
"grid":[{"g":13.9},{"g":34.8},{"g":56.9},{"g":78.9},{"g":98.9},{"g":117.8},{"g":138.9},{"g":158.9},{"g":180.8},{"g":200.9},{"g":219.9},{"g":241.9},{"g":264.9},{"g":285.9},{"g":307.9},{"g":329.75},{"g":354.75}],
"vl":[{"x":142.75,"c":"b","t":"2015.02.06 00:00"},{"x":306.75,"c":"r1","t":"2015.09.30 18:25"},{"x":348.75,"c":"r2","t":"2015.11.25 04:00"}],
"tk":[{"i":0,"d":"1 Jul 2014"},{"i":14,"d":"4 Aug 2014"},{"i":30,"d":"26 Aug 2014"},{"i":46,"d":"17 Sep 2014"},{"i":62,"d":"10 Oct 2014"},{"i":78,"d":"3 Nov 2014"},{"i":94,"d":"25 Nov 2014"},{"i":110,"d":"17 Dec 2014"},{"i":126,"d":"15 Jan 2015"},{"i":142,"d":"6 Feb 2015"},{"i":158,"d":"2 Mar 2015"},{"i":174,"d":"24 Mar 2015"},{"i":190,"d":"17 Apr 2015"},{"i":206,"d":"12 May 2015"},{"i":222,"d":"4 Jun 2015"},{"i":238,"d":"26 Jun 2015"},{"i":254,"d":"20 Jul 2015"},{"i":270,"d":"11 Aug 2015"},{"i":286,"d":"2 Sep 2015"},{"i":318,"d":"16 Oct 2015"},{"i":334,"d":"9 Nov 2015"}],
"yt":[{"p":8267.5},{"p":8488.5},{"p":8716.0},{"p":8937.0},{"p":9164.5},{"p":9385.5},{"p":9613.0},{"p":9840.5},{"p":10061.5},{"p":10289.0},{"p":10510.0},{"p":10737.5},{"p":10958.5},{"p":11186.0},{"p":11413.5},{"p":11634.5},{"p":11862.0},{"p":12083.0},{"p":12310.5},{"p":12531.5}]
},
"spacing":0,
"bounds":"full",
"hconcat":[
{
"spacing":2,
"bounds":"flush",
"vconcat":[
{"width":1903,"height":6,"view":{"stroke":null},"data":{"values":[{}]},"mark":{"type":"rect","color":"#dedede"},
 "encoding":{"x":{"datum":0,"type":"quantitative","scale":{"domain":[0,1]},"axis":null},"x2":{"datum":1},"y":{"datum":0,"type":"quantitative","scale":{"domain":[0,1]},"axis":null},"y2":{"datum":1}}},
{
"width":1860,"height":646,
"resolve":{"scale":{"x":"independent"}},
"layer":[
{"layer":[
{"data":{"name":"grid"},"mark":{"type":"rule","color":"#5c5c5c","strokeDash":[3,3],"strokeWidth":1},
 "encoding":{"x":{"field":"g","type":"quantitative","scale":{"domain":[-0.375,464.625],"nice":false,"zero":false},"axis":null}}},
{"data":{"name":"prof"},"mark":{"type":"rule","color":"#0a800a","strokeDash":[4,3],"strokeWidth":1},
 "encoding":{"y":{"field":"pc","type":"quantitative","scale":{"domain":[8245,12640.4],"nice":false,"zero":false},"axis":null}}},
{"data":{"name":"bars"},"mark":{"type":"rule","color":"#8e8e8e","strokeWidth":1},
 "encoding":{"x":{"field":"i","type":"quantitative","scale":{"domain":[-0.375,464.625],"nice":false,"zero":false},"axis":null},
  "y":{"field":"l","type":"quantitative","scale":{"domain":[8245,12640.4],"nice":false,"zero":false},"axis":null},
  "y2":{"field":"h"}}},
{"data":{"name":"bars"},"mark":{"type":"bar","orient":"vertical","size":3},
 "encoding":{"x":{"field":"i","type":"quantitative","scale":{"domain":[-0.375,464.625],"nice":false,"zero":false},"axis":null},
  "y":{"field":"o","type":"quantitative","scale":{"domain":[8245,12640.4],"nice":false,"zero":false},"axis":null},
  "y2":{"field":"c"},
  "color":{"condition":{"test":"datum.c >= datum.o","value":"#bdbdbd"},"value":"#747474"}}},
{"data":{"name":"vl"},"mark":{"type":"rule","strokeWidth":1},
 "encoding":{"x":{"field":"x","type":"quantitative","scale":{"domain":[-0.375,464.625],"nice":false,"zero":false},"axis":null},
  "stroke":{"field":"c","type":"nominal","scale":{"domain":["b","r1","r2"],"range":["#1a1aff","#c81010","#dc143c"]},"legend":null},
  "strokeDash":{"field":"c","type":"nominal","scale":{"domain":["b","r1","r2"],"range":[[1,0],[2,2],[10,6]]},"legend":null}}},
{"data":{"name":"yt"},"mark":{"type":"rule","color":"#808080"},
 "encoding":{"x":{"datum":464.625,"type":"quantitative","scale":{"domain":[-0.375,464.625],"nice":false,"zero":false},"axis":null},"x2":{"datum":465.375},
  "y":{"field":"p","type":"quantitative","scale":{"domain":[8245,12640.4],"nice":false,"zero":false},"axis":null}}},
{"data":{"name":"yt"},"mark":{"type":"text","fontSize":9.5,"color":"#a8a8a8","align":"left","baseline":"middle"},
 "encoding":{"x":{"datum":466.125,"type":"quantitative","scale":{"domain":[-0.375,464.625],"nice":false,"zero":false},"axis":null},
  "y":{"field":"p","type":"quantitative","scale":{"domain":[8245,12640.4],"nice":false,"zero":false},"axis":null},
  "text":{"field":"p","type":"quantitative","format":".1f"}}},
{"data":{"values":[{}]},"mark":{"type":"rect","color":"#1e1e1e"},
 "encoding":{"x":{"datum":-0.375,"type":"quantitative","scale":{"domain":[-0.375,464.625],"nice":false,"zero":false},"axis":null},"x2":{"datum":83.125},
  "y":{"datum":12640.4,"type":"quantitative","scale":{"domain":[8245,12640.4],"nice":false,"zero":false},"axis":null},"y2":{"datum":11912.3}}},
{"data":{"values":[{}]},"mark":{"type":"text","text":"▼","fontSize":7,"color":"#a0a0a0","align":"left","baseline":"middle"},
 "encoding":{"x":{"datum":0.25,"type":"quantitative","scale":{"domain":[-0.375,464.625],"nice":false,"zero":false},"axis":null},
  "y":{"datum":12579.1,"type":"quantitative","scale":{"domain":[8245,12640.4],"nice":false,"zero":false},"axis":null}}},
{"data":{"values":[{}]},"mark":{"type":"text","text":"Ger30D","fontSize":19,"color":"#dadada","align":"left","baseline":"middle"},
 "encoding":{"x":{"datum":4.75,"type":"quantitative","scale":{"domain":[-0.375,464.625],"nice":false,"zero":false},"axis":null},
  "y":{"datum":12538.3,"type":"quantitative","scale":{"domain":[8245,12640.4],"nice":false,"zero":false},"axis":null}}},
{"data":{"values":[{}]},"mark":{"type":"text","text":"Day","fontSize":19,"color":"#dadada","align":"left","baseline":"middle"},
 "encoding":{"x":{"datum":24.5,"type":"quantitative","scale":{"domain":[-0.375,464.625],"nice":false,"zero":false},"axis":null},
  "y":{"datum":12538.3,"type":"quantitative","scale":{"domain":[8245,12640.4],"nice":false,"zero":false},"axis":null}}},
{"data":{"values":[{}]},"mark":{"type":"text","text":["Spread20.00","LotPip 125.00","Range 1917, 1155","Swaps 0.00, 0.00"],"lineHeight":9.7,"fontSize":12,"color":"#8a8a8a","align":"left","baseline":"middle"},
 "encoding":{"x":{"datum":5.5,"type":"quantitative","scale":{"domain":[-0.375,464.625],"nice":false,"zero":false},"axis":null},
  "y":{"datum":12456.7,"type":"quantitative","scale":{"domain":[8245,12640.4],"nice":false,"zero":false},"axis":null}}},
{"data":{"values":[{}]},"mark":{"type":"text","text":"Label","fontSize":16,"color":"#a0a0a0","align":"left","baseline":"middle"},
 "encoding":{"x":{"datum":0.375,"type":"quantitative","scale":{"domain":[-0.375,464.625],"nice":false,"zero":false},"axis":null},
  "y":{"datum":12164.1,"type":"quantitative","scale":{"domain":[8245,12640.4],"nice":false,"zero":false},"axis":null}}},
{"data":{"values":[{}]},"mark":{"type":"text","text":"S","fontSize":19,"fontWeight":"bold","color":"#1e90ff","align":"center","baseline":"middle"},
 "encoding":{"x":{"datum":37,"type":"quantitative","scale":{"domain":[-0.375,464.625],"nice":false,"zero":false},"axis":null},
  "y":{"datum":12538.3,"type":"quantitative","scale":{"domain":[8245,12640.4],"nice":false,"zero":false},"axis":null}}},
{"data":{"values":[{}]},"mark":{"type":"text","text":"o","fontSize":15,"color":"#1f6fd0","align":"center","baseline":"middle"},
 "encoding":{"x":{"datum":37,"type":"quantitative","scale":{"domain":[-0.375,464.625],"nice":false,"zero":false},"axis":null},
  "y":{"datum":12456.7,"type":"quantitative","scale":{"domain":[8245,12640.4],"nice":false,"zero":false},"axis":null}}},
{"data":{"values":[{}]},"mark":{"type":"text","text":"n","fontSize":15,"color":"#1b4f9a","align":"center","baseline":"middle"},
 "encoding":{"x":{"datum":37,"type":"quantitative","scale":{"domain":[-0.375,464.625],"nice":false,"zero":false},"axis":null},
  "y":{"datum":12388.6,"type":"quantitative","scale":{"domain":[8245,12640.4],"nice":false,"zero":false},"axis":null}}},
{"data":{"values":[{}]},"mark":{"type":"text","text":"i","fontSize":15,"color":"#9a1c1c","align":"center","baseline":"middle"},
 "encoding":{"x":{"datum":37,"type":"quantitative","scale":{"domain":[-0.375,464.625],"nice":false,"zero":false},"axis":null},
  "y":{"datum":12307.0,"type":"quantitative","scale":{"domain":[8245,12640.4],"nice":false,"zero":false},"axis":null}}},
{"data":{"values":[{}]},"mark":{"type":"text","text":"c","fontSize":15,"color":"#d01e1e","align":"center","baseline":"middle"},
 "encoding":{"x":{"datum":37,"type":"quantitative","scale":{"domain":[-0.375,464.625],"nice":false,"zero":false},"axis":null},
  "y":{"datum":12232.1,"type":"quantitative","scale":{"domain":[8245,12640.4],"nice":false,"zero":false},"axis":null}}},
{"data":{"values":[{}]},"mark":{"type":"text","text":"R","fontSize":19,"fontWeight":"bold","color":"#e60000","align":"center","baseline":"middle"},
 "encoding":{"x":{"datum":37,"type":"quantitative","scale":{"domain":[-0.375,464.625],"nice":false,"zero":false},"axis":null},
  "y":{"datum":12116.5,"type":"quantitative","scale":{"domain":[8245,12640.4],"nice":false,"zero":false},"axis":null}}},
{"data":{"values":[{}]},"mark":{"type":"text","text":["19:58 Sydney","17:58 Tokyo","16:58 HongKong","10:58 Helsinki","09:58 Frankfurt  (L)","08:58 London  (G)","03:58 NewYork"],"lineHeight":11.07,"fontSize":12,"color":"#8c8c8c","align":"left","baseline":"middle"},
 "encoding":{"x":{"datum":43.625,"type":"quantitative","scale":{"domain":[-0.375,464.625],"nice":false,"zero":false},"axis":null},
  "y":{"datum":12563.5,"type":"quantitative","scale":{"domain":[8245,12640.4],"nice":false,"zero":false},"axis":null}}},
{"data":{"values":[{}]},"mark":{"type":"tick","orient":"horizontal","size":41,"thickness":10,"color":"#808080","opacity":1},
 "encoding":{"x":{"datum":470.25,"type":"quantitative","scale":{"domain":[-0.375,464.625],"nice":false,"zero":false},"axis":null},
  "y":{"datum":11098,"type":"quantitative","scale":{"domain":[8245,12640.4],"nice":false,"zero":false},"axis":null}}},
{"data":{"values":[{}]},"mark":{"type":"text","text":"11098.0","fontSize":9.5,"color":"#000000","align":"center","baseline":"middle"},
 "encoding":{"x":{"datum":470.25,"type":"quantitative","scale":{"domain":[-0.375,464.625],"nice":false,"zero":false},"axis":null},
  "y":{"datum":11098,"type":"quantitative","scale":{"domain":[8245,12640.4],"nice":false,"zero":false},"axis":null}}}
]},
{"data":{"name":"prof"},"mark":{"type":"rect","color":"#008000"},
 "encoding":{"x":{"field":"pv","type":"quantitative","scale":{"domain":[0,1860000],"reverse":true,"nice":false,"zero":true},"axis":null},"x2":{"datum":0},
  "y":{"field":"lo","type":"quantitative","scale":{"domain":[8245,12640.4],"nice":false,"zero":false},"axis":null},"y2":{"field":"hi"}}},
{"data":{"values":[{"poc":10800,"pv":183000}]},"mark":{"type":"rule","color":"#9a4a1a","strokeWidth":2},
 "encoding":{"x":{"field":"pv","type":"quantitative","scale":{"domain":[0,1860000],"reverse":true,"nice":false,"zero":true},"axis":null},"x2":{"datum":0},
  "y":{"field":"poc","type":"quantitative","scale":{"domain":[8245,12640.4],"nice":false,"zero":false},"axis":null}}}
]
},
{
"width":1860,"height":76,
"layer":[
{"data":{"name":"grid"},"mark":{"type":"rule","color":"#5c5c5c","strokeDash":[3,3],"strokeWidth":1},
 "encoding":{"x":{"field":"g","type":"quantitative","scale":{"domain":[-0.375,464.625],"nice":false,"zero":false},"axis":null}}},
{"data":{"name":"bars"},"transform":[{"filter":"datum.k == 'n'"}],"mark":{"type":"bar","orient":"vertical","size":1,"color":"#8686aa"},
 "encoding":{"x":{"field":"i","type":"quantitative","scale":{"domain":[-0.375,464.625],"nice":false,"zero":false},"axis":null},
  "y":{"field":"v","type":"quantitative","stack":null,"scale":{"domain":[0,266500],"nice":false,"zero":true},"axis":null}}},
{"data":{"name":"bars"},"transform":[{"filter":"datum.k != 'n'"}],"mark":{"type":"bar","orient":"vertical","size":3},
 "encoding":{"x":{"field":"i","type":"quantitative","scale":{"domain":[-0.375,464.625],"nice":false,"zero":false},"axis":null},
  "y":{"field":"v","type":"quantitative","stack":null,"scale":{"domain":[0,266500],"nice":false,"zero":true},"axis":null},
  "color":{"field":"k","type":"nominal","scale":{"domain":["r","g","p","b"],"range":["#d81414","#3ccd3c","#9a34f0","#2a8cff"]},"legend":null}}},
{"data":{"name":"vl"},"mark":{"type":"rule","strokeWidth":1},
 "encoding":{"x":{"field":"x","type":"quantitative","scale":{"domain":[-0.375,464.625],"nice":false,"zero":false},"axis":null},
  "stroke":{"field":"c","type":"nominal","scale":{"domain":["b","r1","r2"],"range":["#1a1aff","#c81010","#dc143c"]},"legend":null},
  "strokeDash":{"field":"c","type":"nominal","scale":{"domain":["b","r1","r2"],"range":[[10,3],[2,2],[10,6]]},"legend":null}}},
{"data":{"values":[{}]},"mark":{"type":"text","text":"SonicR PVA  (Chart Scale 2)   Alert On","fontSize":9.5,"color":"#8c8c8c","align":"left","baseline":"middle"},
 "encoding":{"x":{"datum":-0.375,"type":"quantitative","scale":{"domain":[-0.375,464.625],"nice":false,"zero":false},"axis":null},
  "y":{"datum":232500,"type":"quantitative","scale":{"domain":[0,266500],"nice":false,"zero":true},"axis":null}}},
{"data":{"values":[{}]},"mark":{"type":"text","text":"245449","fontSize":9.5,"color":"#a8a8a8","align":"left","baseline":"middle"},
 "encoding":{"x":{"datum":466.125,"type":"quantitative","scale":{"domain":[-0.375,464.625],"nice":false,"zero":false},"axis":null},
  "y":{"datum":238450,"type":"quantitative","scale":{"domain":[0,266500],"nice":false,"zero":true},"axis":null}}},
{"data":{"values":[{}]},"mark":{"type":"text","text":"0","fontSize":9.5,"color":"#a8a8a8","align":"left","baseline":"middle"},
 "encoding":{"x":{"datum":466.125,"type":"quantitative","scale":{"domain":[-0.375,464.625],"nice":false,"zero":false},"axis":null},
  "y":{"datum":17530,"type":"quantitative","scale":{"domain":[0,266500],"nice":false,"zero":true},"axis":null}}},
{"data":{"name":"tk"},"mark":{"type":"rule","color":"#808080"},
 "encoding":{"x":{"field":"i","type":"quantitative","scale":{"domain":[-0.375,464.625],"nice":false,"zero":false},"axis":null},
  "y":{"datum":0,"type":"quantitative","scale":{"domain":[0,266500],"nice":false,"zero":true},"axis":null},"y2":{"datum":-14000}}},
{"data":{"name":"tk"},"mark":{"type":"text","fontSize":9.5,"color":"#a0a0a0","align":"left","baseline":"middle","dx":1},
 "encoding":{"x":{"field":"i","type":"quantitative","scale":{"domain":[-0.375,464.625],"nice":false,"zero":false},"axis":null},
  "y":{"datum":-35000,"type":"quantitative","scale":{"domain":[0,266500],"nice":false,"zero":true},"axis":null},
  "text":{"field":"d"}}},
{"data":{"name":"vl"},"mark":{"type":"tick","orient":"horizontal","size":80,"thickness":14,"opacity":1},
 "encoding":{"x":{"field":"x","type":"quantitative","scale":{"domain":[-0.375,464.625],"nice":false,"zero":false},"axis":null},
  "y":{"datum":-35000,"type":"quantitative","scale":{"domain":[0,266500],"nice":false,"zero":true},"axis":null},
  "fill":{"field":"c","type":"nominal","scale":{"domain":["b","r1","r2"],"range":["#1010ff","#ff0000","#dc143c"]},"legend":null}}},
{"data":{"name":"vl"},"mark":{"type":"text","fontSize":9.5,"color":"#1a1a1a","align":"center","baseline":"middle"},
 "encoding":{"x":{"field":"x","type":"quantitative","scale":{"domain":[-0.375,464.625],"nice":false,"zero":false},"axis":null},
  "y":{"datum":-35000,"type":"quantitative","scale":{"domain":[0,266500],"nice":false,"zero":true},"axis":null},
  "text":{"field":"t"}}}
]
},
{"width":1903,"height":15,"view":{"fill":"transparent","stroke":null},"data":{"values":[]},"mark":"point","encoding":{}},
{"width":1903,"height":4,"view":{"stroke":null},"data":{"values":[{}]},"mark":{"type":"rect","color":"#d4d4d4"},
 "encoding":{"x":{"datum":0,"type":"quantitative","scale":{"domain":[0,1]},"axis":null},"x2":{"datum":1},"y":{"datum":0,"type":"quantitative","scale":{"domain":[0,1]},"axis":null},"y2":{"datum":1}}}
]
},
{"width":8,"height":755,"view":{"stroke":null},"data":{"values":[{}]},"mark":{"type":"rect","color":"#c4c4c4"},
 "encoding":{"x":{"datum":0,"type":"quantitative","scale":{"domain":[0,1]},"axis":null},"x2":{"datum":1},"y":{"datum":0,"type":"quantitative","scale":{"domain":[0,1]},"axis":null},"y2":{"datum":1}}}
]
}
